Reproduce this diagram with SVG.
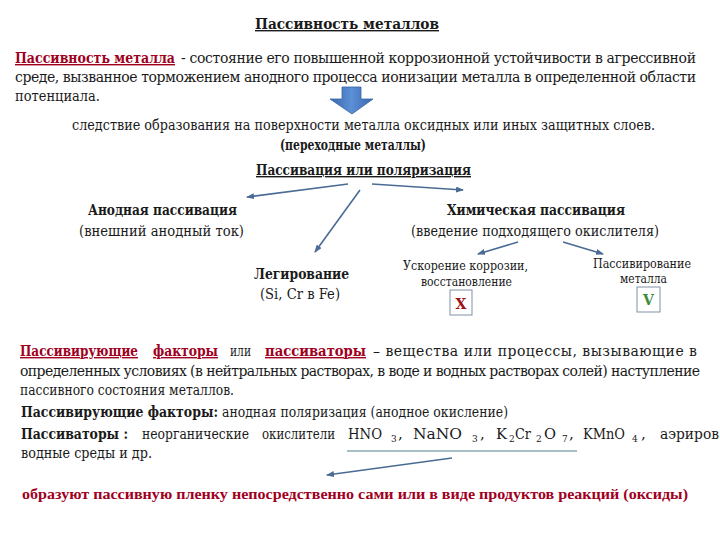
<svg xmlns="http://www.w3.org/2000/svg" width="720" height="540" viewBox="0 0 720 540" font-family="'DejaVu Serif', 'Liberation Serif', serif">
<defs>
<style>
text{font-family:'DejaVu Serif','Liberation Serif',serif;fill:#1a1a1a;font-size:14px}
.b{font-weight:bold}
.u{text-decoration:underline}
.red{fill:#A0001E}
.sm{font-size:12px}
.sub{font-size:9px}
.f{font-size:15px}
.narrow{font-family:'Liberation Serif','DejaVu Serif',serif}
.conn{stroke:#4A6B94;stroke-width:1.6;fill:none}
.box{fill:#ffffff;stroke:#8090A8;stroke-width:1}
</style>
<marker id="ah" markerWidth="8" markerHeight="6" refX="7" refY="3" orient="auto" markerUnits="userSpaceOnUse">
<path d="M0,0 L8,3 L0,6 z" fill="#4A6B94"/>
</marker>
<linearGradient id="ag" x1="0" y1="0" x2="1" y2="0">
<stop offset="0" stop-color="#3A68AE"/>
<stop offset="0.5" stop-color="#5B8FD6"/>
<stop offset="1" stop-color="#3A68AE"/>
</linearGradient>
</defs>
<rect width="720" height="540" fill="#ffffff"/>

<g id="title">
<text class="b u" x="255" y="29" font-size="15" textLength="184" lengthAdjust="spacingAndGlyphs">Пассивность металлов</text>
</g>

<g id="definition">
<text class="b u red" x="15" y="63" textLength="160" lengthAdjust="spacingAndGlyphs">Пассивность металла</text>
<text x="181" y="63" textLength="515" lengthAdjust="spacing">- состояние его повышенной коррозионной устойчивости в агрессивной</text>
<text x="15" y="82" textLength="681" lengthAdjust="spacing">среде, вызванное торможением анодного процесса ионизации металла в определенной области</text>
<text x="15" y="101" textLength="85" lengthAdjust="spacingAndGlyphs">потенциала.</text>
</g>

<g id="connectors">
<polygon points="342,87 361,87 361,99 373,99 352,114 330,99 342,99" fill="url(#ag)" stroke="#3A64A4" stroke-width="0.8"/>
<line class="conn" x1="348" y1="184" x2="247" y2="197" marker-end="url(#ah)"/>
<line class="conn" x1="372" y1="184" x2="463" y2="190" marker-end="url(#ah)"/>
<line class="conn" x1="360" y1="190" x2="315" y2="252" marker-end="url(#ah)"/>
<line class="conn" x1="518" y1="242" x2="478" y2="254" marker-end="url(#ah)"/>
<line class="conn" x1="563" y1="242" x2="603" y2="254" marker-end="url(#ah)"/>
<line x1="347" y1="451" x2="577" y2="451" stroke="#4E7F8C" stroke-width="1"/>
<line class="conn" x1="452" y1="458" x2="327" y2="475" marker-end="url(#ah)"/>
</g>

<g id="consequence">
<text x="72" y="130" textLength="583" lengthAdjust="spacingAndGlyphs">следствие образования на поверхности металла оксидных или иных защитных слоев.</text>
<text class="b" x="280" y="150" font-size="12" textLength="146" lengthAdjust="spacingAndGlyphs">(переходные металлы)</text>
</g>

<g id="passivation">
<text class="b u" x="256" y="175" textLength="215" lengthAdjust="spacingAndGlyphs">Пассивация или поляризация</text>
</g>

<g id="anodic">
<text class="b" x="88" y="215" textLength="149" lengthAdjust="spacingAndGlyphs">Анодная пассивация</text>
<text x="79" y="236" textLength="165" lengthAdjust="spacingAndGlyphs">(внешний анодный ток)</text>
</g>

<g id="chemical">
<text class="b" x="447" y="215" textLength="178" lengthAdjust="spacingAndGlyphs">Химическая пассивация</text>
<text x="411" y="236" textLength="248" lengthAdjust="spacingAndGlyphs">(введение подходящего окислителя)</text>
</g>

<g id="alloying">
<text class="b" x="254" y="279" textLength="95" lengthAdjust="spacingAndGlyphs">Легирование</text>
<text x="260" y="299" textLength="80" lengthAdjust="spacingAndGlyphs">(Si, Cr в Fe)</text>
</g>

<g id="acceleration">
<text class="sm" x="403" y="270" textLength="125" lengthAdjust="spacingAndGlyphs">Ускорение коррозии,</text>
<text class="sm" x="421" y="286" textLength="91" lengthAdjust="spacingAndGlyphs">восстановление</text>
</g>

<g id="passivating">
<text class="sm" x="593" y="268" textLength="98" lengthAdjust="spacingAndGlyphs">Пассивирование</text>
<text class="sm" x="620" y="283" textLength="47" lengthAdjust="spacingAndGlyphs">металла</text>
</g>

<g id="box-x">
<rect class="box" x="450" y="290" width="22" height="25"/>
<text class="b" x="461" y="309" font-size="15" text-anchor="middle" style="fill:#A0101A">X</text>
</g>

<g id="box-v">
<rect class="box" x="637" y="287" width="23" height="25"/>
<text class="b" x="648.5" y="305" font-size="15" text-anchor="middle" style="fill:#3C8C3C">V</text>
</g>

<g id="factors">
<text class="b u red" x="20" y="356" textLength="118" lengthAdjust="spacingAndGlyphs">Пассивирующие</text>
<text class="b u red" x="153" y="356" textLength="65" lengthAdjust="spacingAndGlyphs">факторы</text>
<text x="230" y="356" textLength="21" lengthAdjust="spacingAndGlyphs">или</text>
<text class="b u red" x="265" y="356" textLength="101" lengthAdjust="spacingAndGlyphs">пассиваторы</text>
<text x="373" y="356" textLength="324" lengthAdjust="spacing">– вещества или процессы, вызывающие в</text>
<text x="20" y="376" textLength="680" lengthAdjust="spacing">определенных условиях (в нейтральных растворах, в воде и водных растворах солей) наступление</text>
<text x="20" y="395" textLength="214" lengthAdjust="spacingAndGlyphs">пассивного состояния металлов.</text>
</g>

<g id="factors-detail">
<text class="b" x="21" y="417" textLength="197" lengthAdjust="spacingAndGlyphs">Пассивирующие факторы:</text>
<text x="222" y="417" textLength="286" lengthAdjust="spacingAndGlyphs">анодная поляризация (анодное окисление)</text>
</g>

<g id="passivators">
<text class="b" x="21" y="439" textLength="107" lengthAdjust="spacingAndGlyphs">Пассиваторы :</text>
<text x="142" y="439" textLength="107" lengthAdjust="spacingAndGlyphs">неорганические</text>
<text x="262" y="439" textLength="73" lengthAdjust="spacingAndGlyphs">окислители</text>
<text class="f" x="348" y="439" textLength="34" lengthAdjust="spacingAndGlyphs">HNO</text>
<text class="sub" x="391" y="442">3</text>
<text class="f" x="398" y="439">,</text>
<text class="f" x="413" y="439" textLength="49" lengthAdjust="spacingAndGlyphs">NaNO</text>
<text class="sub" x="472" y="442">3</text>
<text class="f" x="480" y="439">,</text>
<text class="f" x="496" y="439" textLength="11" lengthAdjust="spacingAndGlyphs">K</text>
<text class="sub" x="509" y="442">2</text>
<text class="f" x="515" y="439" textLength="16" lengthAdjust="spacingAndGlyphs">Cr</text>
<text class="sub" x="536" y="442">2</text>
<text class="f" x="544" y="439" textLength="12" lengthAdjust="spacingAndGlyphs">O</text>
<text class="sub" x="562" y="442">7</text>
<text class="f" x="569" y="439">,</text>
<text class="f" x="583" y="439" textLength="42" lengthAdjust="spacingAndGlyphs">KMnO</text>
<text class="sub" x="632" y="442">4</text>
<text class="f" x="641" y="439">,</text>
<text x="660" y="439" textLength="59" lengthAdjust="spacingAndGlyphs">аэриров</text>
<text x="21" y="458" textLength="131" lengthAdjust="spacingAndGlyphs">водные среды и др.</text>
</g>

<g id="film">
<text class="b red narrow" x="22" y="499" font-size="15" textLength="666" lengthAdjust="spacingAndGlyphs">образуют пассивную пленку непосредственно сами или в виде продуктов реакций (оксиды)</text>
</g>
</svg>
